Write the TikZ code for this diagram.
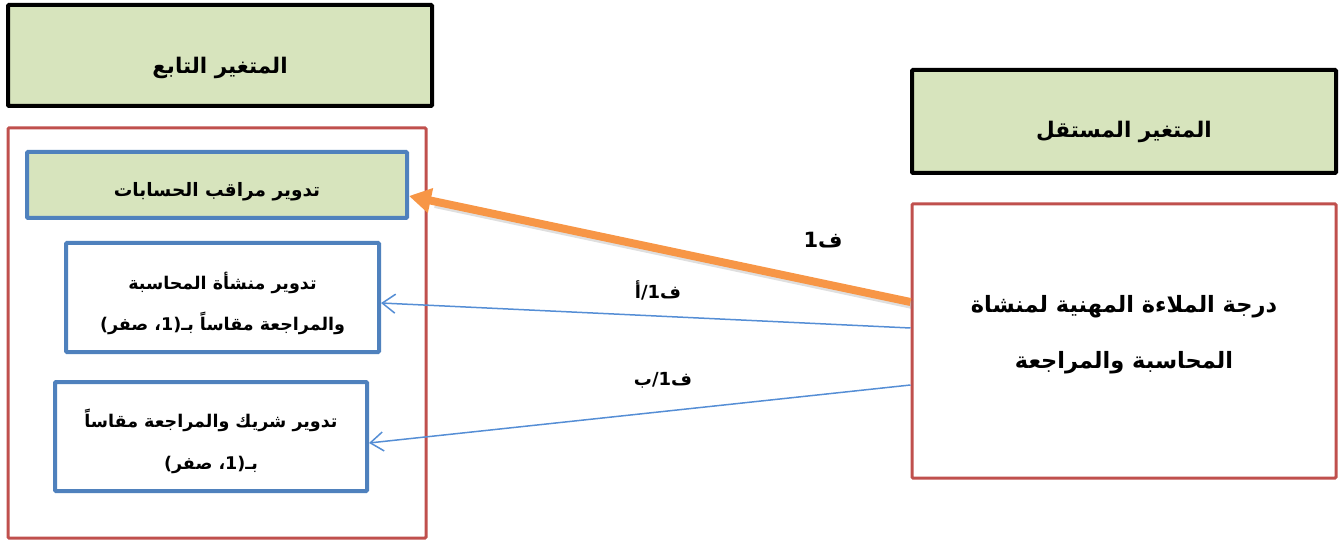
\documentclass[tikz,border=0pt]{standalone}
\usepackage{fontspec}
\newfontfamily\arabicfont[Script=Arabic]{DejaVu Sans}
\TeXXeTstate=1
\usetikzlibrary{arrows.meta,calc}
\definecolor{hdrgreen}{HTML}{D7E4BD}
\definecolor{boxred}{HTML}{C0504D}
\definecolor{boxblue}{HTML}{4F81BD}
\definecolor{arrorange}{HTML}{F79646}
\definecolor{lineblue}{HTML}{558ED5}
\newcommand{\ar}[1]{\beginR #1\endR}
\tikzset{
  hdrbox/.style={draw=black, line width=4pt, fill=hdrgreen, inner sep=0pt, rounded corners=1pt},
  redbox/.style={draw=boxred, line width=3pt, fill=white, inner sep=0pt, rounded corners=1pt},
  bluebox/.style={draw=boxblue, line width=4pt, fill=white, inner sep=0pt, rounded corners=1pt},
  greenbox/.style={bluebox, fill=hdrgreen},
  txt/.style={inner sep=0pt, align=center},
  lbl/.style={font=\arabicfont\bfseries\fontsize{18}{21}\selectfont, inner sep=0pt},
  bluearrow/.style={draw=lineblue, line width=1.5pt, -{Straight Barb[length=13pt,width=19pt]}},
  orangearrow/.style={draw=arrorange, line width=8pt, -{Triangle[length=22pt,width=24pt]}}
}
\begin{document}
\begin{tikzpicture}[x=1pt,y=-1pt]
\useasboundingbox (0,0) rectangle (1339,540);
% headers
\node[hdrbox, minimum width=424pt, minimum height=101pt] (dep) at (220,55.5) {};
\node[txt, font=\arabicfont\bfseries\fontsize{21.5}{25}\selectfont] (deptxt) at ([yshift=-12pt]dep.center) {\ar{المتغير التابع}};
\node[hdrbox, minimum width=424pt, minimum height=103pt] (ind) at (1124,121.5) {};
\node[txt, font=\arabicfont\bfseries\fontsize{21.5}{25}\selectfont] (indtxt) at ([yshift=-10pt]ind.center) {\ar{المتغير المستقل}};
% containers
\node[redbox, minimum width=418pt, minimum height=410pt] (left) at (217,333) {};
\node[redbox, minimum width=424pt, minimum height=274pt] (right) at (1124,341) {};
\node[txt, font=\arabicfont\bfseries\fontsize{22.5}{27}\selectfont] (righttxt) at ([yshift=6pt]right.center) {\ar{درجة الملاءة المهنية لمنشاة}\\[29pt]\ar{المحاسبة والمراجعة}};
% inner boxes
\node[greenbox, minimum width=380pt, minimum height=66pt] (rot) at (217,185) {};
\node[txt, font=\arabicfont\bfseries\fontsize{18.5}{22}\selectfont] (rottxt) at ([yshift=-7pt]rot.center) {\ar{تدوير مراقب الحسابات}};
\node[bluebox, minimum width=313pt, minimum height=109pt] (firm) at (222.5,297.5) {};
\node[txt, font=\arabicfont\bfseries\fontsize{17.5}{21}\selectfont] (firmtxt) at ([yshift=-6pt]firm.center) {\ar{تدوير منشأة المحاسبة}\\[18pt]\ar{والمراجعة مقاساً بـ(1، صفر)}};
\node[bluebox, minimum width=312pt, minimum height=109pt] (part) at (211,436.5) {};
\node[txt, font=\arabicfont\bfseries\fontsize{17.5}{21}\selectfont] (parttxt) at ([yshift=-5pt]part.center) {\ar{تدوير شريك والمراجعة مقاساً}\\[21pt]\ar{بـ(1، صفر)}};
% arrows
\draw[draw=gray, opacity=0.25, line width=8pt] ([xshift=2pt,yshift=36pt]right.west) -- ([xshift=26pt,yshift=-19pt]rot.east);
\draw[orangearrow] ([yshift=39pt]right.west) -- ([yshift=-11pt]rot.east);
\draw[bluearrow] ([yshift=13pt]right.west) -- ([yshift=-5.5pt]firm.east);
\draw[bluearrow] ([yshift=-44pt]right.west) -- ([yshift=-6.5pt]part.east);
% labels
\node[lbl, font=\arabicfont\bfseries\fontsize{21}{24}\selectfont] (f1) at (823,240) {\ar{ف1}};
\node[lbl] (f1a) at (658,290) {\ar{ف1/أ}};
\node[lbl] (f1b) at (663,380) {\ar{ف1/ب}};
\end{tikzpicture}
\end{document}
